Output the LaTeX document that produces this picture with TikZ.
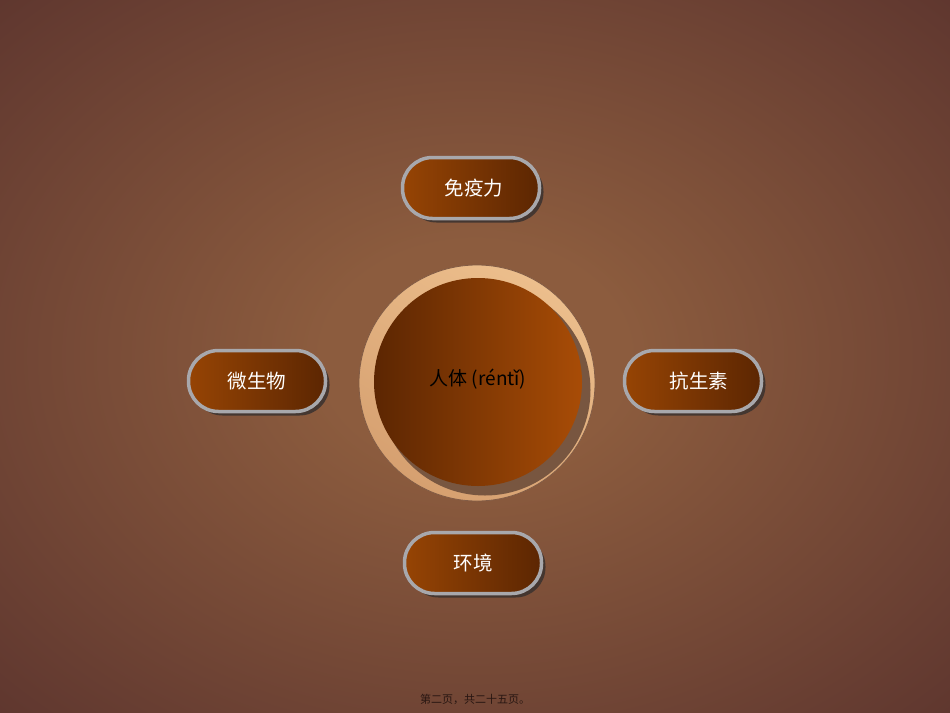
\documentclass[tikz,border=0pt]{standalone}
\usepackage{fontspec}
\setmainfont{Noto Sans CJK SC}
\usetikzlibrary{shadows}
\definecolor{bgc}{RGB}{140,92,62}
\definecolor{bgm}{RGB}{104,62,50}
\definecolor{bge}{RGB}{72,36,38}
\definecolor{pillL}{RGB}{150,68,4}
\definecolor{pillR}{RGB}{92,38,2}
\definecolor{pillborder}{RGB}{168,168,172}
\definecolor{shadowc}{RGB}{62,52,48}
\definecolor{ringL}{RGB}{236,190,140}
\definecolor{ringD}{RGB}{214,160,112}
\definecolor{ringline}{RGB}{130,92,70}
\definecolor{ringshadow}{RGB}{120,86,64}
\definecolor{bodyL}{RGB}{92,38,2}
\definecolor{bodyR}{RGB}{168,76,6}
\definecolor{footc}{RGB}{40,22,18}
\pgfdeclareradialshading{bgshade}{\pgfpoint{0bp}{0bp}}{color(0bp)=(bgc); color(8bp)=(bgc); color(30bp)=(bgm); color(50bp)=(bge)}
\tikzset{
  pill/.style={draw=pillborder, line width=3.5pt, rounded corners=30pt,
    minimum width=137pt, minimum height=61pt, left color=pillL, right color=pillR,
    text=white, font=\fontsize{19.5}{21}\selectfont,
    drop shadow={shadow xshift=4pt, shadow yshift=-4pt, fill=shadowc, opacity=0.9}},
  ringstyle/.style={circle, draw=ringline, line width=0.8pt, minimum size=236pt, inner sep=0pt,
    shading=axis, top color=ringL, bottom color=ringD, shading angle=-30},
  bodystyle/.style={circle, minimum size=208pt, inner sep=0pt, left color=bodyL, right color=bodyR,
    text=black, font=\fontsize{19}{21}\selectfont},
  foot/.style={font=\fontsize{11}{12}\selectfont, text=footc}
}
\begin{document}
\begin{tikzpicture}[x=1pt,y=-1pt]
\useasboundingbox (0,0) rectangle (950,712);
\fill[bge] (0,0) rectangle (950,712);
\shade[shading=bgshade] (0,0) rectangle (950,712);
% central circle
\node[ringstyle] (ring) at (477,383) {};
\fill[ringshadow] (485,390) circle (105.5);
\node[bodystyle] (body) at (478,382) {\raisebox{9pt}{人体 (réntǐ)}};
% pills
\node[pill] (immune) at (471,188) {\hspace{6pt}免疫力};
\node[pill] (microbe) at (257,381) {微生物};
\node[pill] (antibio) at (693,381) {\hspace{12pt}抗生素};
\node[pill] (env) at (473,563) {环境};
% footer
\node[foot] (footer) at (475,699) {第二页，共二十五页。};
\end{tikzpicture}
\end{document}
